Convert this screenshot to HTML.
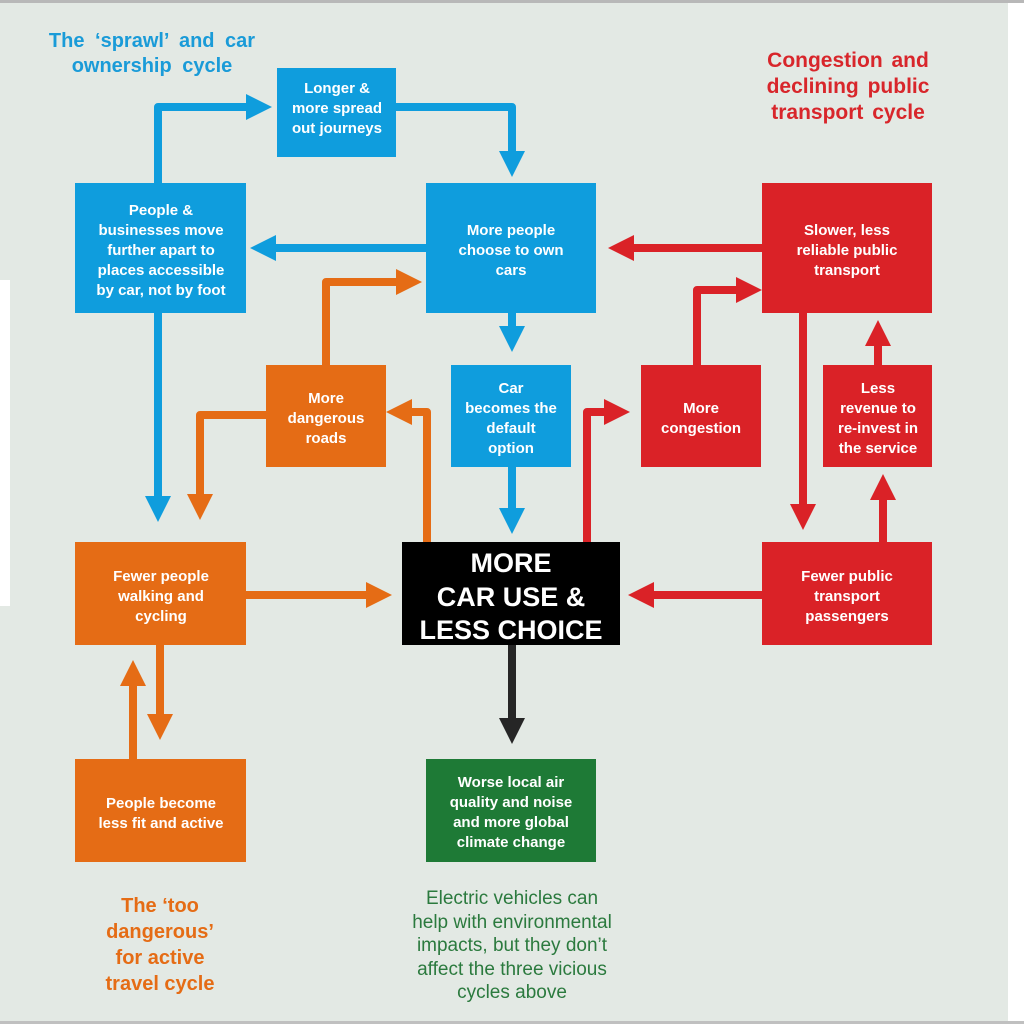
<!DOCTYPE html>
<html><head><meta charset="utf-8"><style>
html,body{margin:0;padding:0;width:1024px;height:1024px;overflow:hidden;background:#fff}
svg{display:block}
text{font-family:"Liberation Sans",Arial,sans-serif}
.b{fill:#fff;font-weight:bold;font-size:15px;text-anchor:middle}
</style></head><body>
<svg width="1024" height="1024" viewBox="0 0 1024 1024">
<rect x="0" y="0" width="1008" height="1024" fill="#e3e9e4"/>
<rect x="0" y="0" width="1024" height="3" fill="#b8b8b8"/>
<rect x="0" y="1021" width="1024" height="3" fill="#c0c0c0"/>
<rect x="0" y="280" width="10" height="326" fill="#fff"/>

<g fill="none" stroke-width="8" stroke-linejoin="round">
<g stroke="#0f9ddd">
<polyline points="158,183 158,107 250,107"/>
<polyline points="396,107 512,107 512,155"/>
<polyline points="426,248 272,248"/>
<polyline points="512,313 512,330"/>
<polyline points="512,467 512,512"/>
<polyline points="158,313 158,500"/>
</g>
<g stroke="#e56c15">
<polyline points="326,365 326,282 398,282"/>
<polyline points="266,415 200,415 200,498"/>
<polyline points="427,542 427,412 410,412"/>
<polyline points="246,595 370,595"/>
<polyline points="160,645 160,718"/>
<polyline points="133,759 133,682"/>
</g>
<g stroke="#da2227">
<polyline points="762,248 632,248"/>
<polyline points="697,365 697,290 738,290"/>
<polyline points="587,542 587,412 606,412"/>
<polyline points="803,313 803,506"/>
<polyline points="883,542 883,498"/>
<polyline points="878,365 878,344"/>
<polyline points="762,595 650,595"/>
</g>
<polyline stroke="#262626" points="512,645 512,722"/>
</g>

<g fill="#0f9ddd">
<polygon points="246,94 272,107 246,120"/>
<polygon points="499,151 525,151 512,177"/>
<polygon points="276,235 250,248 276,261"/>
<polygon points="499,326 525,326 512,352"/>
<polygon points="499,508 525,508 512,534"/>
<polygon points="145,496 171,496 158,522"/>
</g>
<g fill="#e56c15">
<polygon points="396,269 422,282 396,295"/>
<polygon points="187,494 213,494 200,520"/>
<polygon points="412,399 386,412 412,425"/>
<polygon points="366,582 392,595 366,608"/>
<polygon points="147,714 173,714 160,740"/>
<polygon points="120,686 146,686 133,660"/>
</g>
<g fill="#da2227">
<polygon points="634,235 608,248 634,261"/>
<polygon points="736,277 762,290 736,303"/>
<polygon points="604,399 630,412 604,425"/>
<polygon points="790,504 816,504 803,530"/>
<polygon points="870,500 896,500 883,474"/>
<polygon points="865,346 891,346 878,320"/>
<polygon points="654,582 628,595 654,608"/>
</g>
<polygon fill="#262626" points="499,718 525,718 512,744"/>

<g fill="#0f9ddd">
<rect x="277" y="68" width="119" height="89"/>
<rect x="75" y="183" width="171" height="130"/>
<rect x="426" y="183" width="170" height="130"/>
<rect x="451" y="365" width="120" height="102"/>
</g>
<g fill="#e56c15">
<rect x="266" y="365" width="120" height="102"/>
<rect x="75" y="542" width="171" height="103"/>
<rect x="75" y="759" width="171" height="103"/>
</g>
<g fill="#da2227">
<rect x="762" y="183" width="170" height="130"/>
<rect x="641" y="365" width="120" height="102"/>
<rect x="823" y="365" width="109" height="102"/>
<rect x="762" y="542" width="170" height="103"/>
</g>
<rect x="402" y="542" width="218" height="103" fill="#000"/>
<rect x="426" y="759" width="170" height="103" fill="#1e7a36"/>

<text class="b"><tspan x="337" y="93">Longer &amp;</tspan><tspan x="337" y="113">more spread</tspan><tspan x="337" y="133">out journeys</tspan></text>
<text class="b"><tspan x="161" y="215">People &amp;</tspan><tspan x="161" y="235">businesses move</tspan><tspan x="161" y="255">further apart to</tspan><tspan x="161" y="275">places accessible</tspan><tspan x="161" y="295">by car, not by foot</tspan></text>
<text class="b"><tspan x="511" y="235">More people</tspan><tspan x="511" y="255">choose to own</tspan><tspan x="511" y="275">cars</tspan></text>
<text class="b"><tspan x="847" y="235">Slower, less</tspan><tspan x="847" y="255">reliable public</tspan><tspan x="847" y="275">transport</tspan></text>
<text class="b"><tspan x="326" y="403">More</tspan><tspan x="326" y="423">dangerous</tspan><tspan x="326" y="443">roads</tspan></text>
<text class="b"><tspan x="511" y="393">Car</tspan><tspan x="511" y="413">becomes the</tspan><tspan x="511" y="433">default</tspan><tspan x="511" y="453">option</tspan></text>
<text class="b"><tspan x="701" y="413">More</tspan><tspan x="701" y="433">congestion</tspan></text>
<text class="b"><tspan x="878" y="393">Less</tspan><tspan x="878" y="413">revenue to</tspan><tspan x="878" y="433">re-invest in</tspan><tspan x="878" y="453">the service</tspan></text>
<text class="b"><tspan x="161" y="581">Fewer people</tspan><tspan x="161" y="601">walking and</tspan><tspan x="161" y="621">cycling</tspan></text>
<text class="b"><tspan x="847" y="581">Fewer public</tspan><tspan x="847" y="601">transport</tspan><tspan x="847" y="621">passengers</tspan></text>
<text class="b"><tspan x="161" y="808">People become</tspan><tspan x="161" y="828">less fit and active</tspan></text>
<text class="b"><tspan x="511" y="787">Worse local air</tspan><tspan x="511" y="807">quality  and noise</tspan><tspan x="511" y="827">and more global</tspan><tspan x="511" y="847">climate change</tspan></text>
<text fill="#fff" font-weight="bold" font-size="27" text-anchor="middle"><tspan x="511" y="572">MORE</tspan><tspan x="511" y="606">CAR USE &amp;</tspan><tspan x="511" y="639">LESS CHOICE</tspan></text>

<text fill="#1a9bd8" font-weight="bold" font-size="20" text-anchor="middle" word-spacing="5"><tspan x="152" y="47">The ‘sprawl’ and car</tspan><tspan x="152" y="72">ownership cycle</tspan></text>
<text fill="#d8262b" font-weight="bold" font-size="21" text-anchor="middle" word-spacing="3"><tspan x="848" y="67">Congestion and</tspan><tspan x="848" y="93">declining public</tspan><tspan x="848" y="119">transport cycle</tspan></text>
<text fill="#e56c15" font-weight="bold" font-size="20" text-anchor="middle"><tspan x="160" y="912">The ‘too</tspan><tspan x="160" y="938">dangerous’</tspan><tspan x="160" y="964">for active</tspan><tspan x="160" y="990">travel cycle</tspan></text>
<text fill="#2b7a3e" font-size="19" text-anchor="middle"><tspan x="512" y="904">Electric vehicles can</tspan><tspan x="512" y="928">help with environmental</tspan><tspan x="512" y="951">impacts, but they don’t</tspan><tspan x="512" y="975">affect the three vicious</tspan><tspan x="512" y="998">cycles above</tspan></text>
</svg>
</body></html>
